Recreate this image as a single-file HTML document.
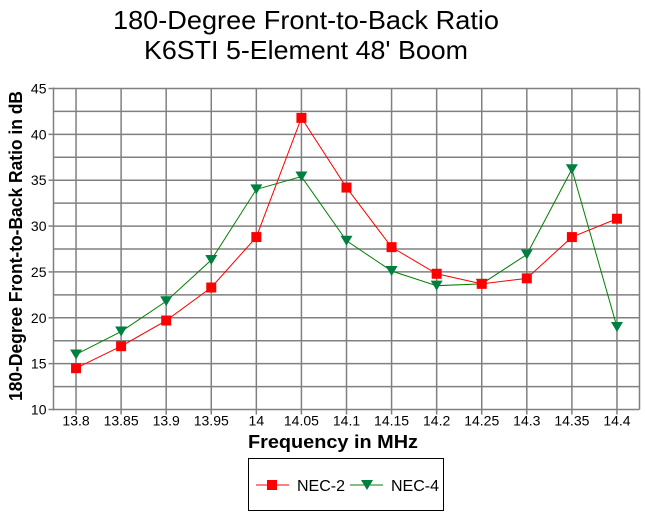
<!DOCTYPE html>
<html><head><meta charset="utf-8"><style>
body{margin:0;background:#fff;}
text{font-family:"Liberation Sans",Arial,sans-serif;}
</style></head><body>
<svg id="chart" width="645" height="514" xmlns="http://www.w3.org/2000/svg">
<text x="306" y="29" font-size="26" text-anchor="middle" textLength="386" lengthAdjust="spacingAndGlyphs">180-Degree Front-to-Back Ratio</text>
<text x="306" y="59" font-size="26" text-anchor="middle" textLength="324" lengthAdjust="spacingAndGlyphs">K6STI 5-Element 48' Boom</text>
<g id="grid"></g>
<g id="axes"></g>
<g id="series"></g>
<text x="333" y="448" font-size="18" font-weight="bold" text-anchor="middle" textLength="170" lengthAdjust="spacingAndGlyphs">Frequency in MHz</text>
<text transform="translate(22,246) rotate(-90)" font-size="18" font-weight="bold" text-anchor="middle" textLength="310" lengthAdjust="spacingAndGlyphs">180-Degree Front-to-Back Ratio in dB</text>
<g>
<rect x="248.5" y="458.5" width="195" height="52" fill="none" stroke="#000" stroke-width="1"/>
<g>
<line x1="256" y1="485" x2="289" y2="485" stroke="#f00"/>
<rect x="267" y="480" width="10" height="10" fill="#f00"/>
<text x="297" y="491" font-size="16">NEC-2</text></g>
<g>
<line x1="350" y1="485" x2="383" y2="485" stroke="#008000"/>
<polygon points="361,480 373,480 367,490" fill="#008040"/>
<text x="391" y="491" font-size="16">NEC-4</text></g>
</g>
</svg>
<script>
const categories=["13.8","13.85","13.9","13.95","14","14.05","14.1","14.15","14.2","14.25","14.3","14.35","14.4"];
const nec2=[14.5,16.9,19.7,23.3,28.8,41.8,34.2,27.7,24.8,23.7,24.3,28.8,30.8];
const nec4=[16.0,18.5,21.8,26.3,34.0,35.4,28.4,25.1,23.5,23.7,26.9,36.2,19.0];
const yTicks=[10,15,20,25,30,35,40,45];
const NS="http://www.w3.org/2000/svg";
const L=53.5,R=639.5,T=88.5,B=409.5,ymin=10,ymax=45;
const step=(R-L)/categories.length;
function x(i){return L+step*(i+0.5);}
function y(v){return B-(v-ymin)/(ymax-ymin)*(B-T);}
function mk(tag,attrs,parent){const e=document.createElementNS(NS,tag);for(const k in attrs)e.setAttribute(k,attrs[k]);parent.appendChild(e);return e;}
const grid=document.getElementById('grid'),axes=document.getElementById('axes'),series=document.getElementById('series');
for(let v=ymin;v<=ymax;v+=2.5){const l=mk('line',{x1:L,x2:R,y1:y(v),y2:y(v),stroke:'#808080','stroke-width':1.5},grid);

}
categories.forEach((c,i)=>{const l=mk('line',{x1:x(i),x2:x(i),y1:T,y2:B+5,stroke:'#808080','stroke-width':1.5},grid);


const t=mk('text',{x:x(i),y:B+16,'font-size':14,'text-anchor':'middle'},axes);t.textContent=c;

});
mk('line',{x1:R,x2:R,y1:T,y2:B,stroke:'#808080','stroke-width':1.5},grid);
mk('line',{x1:L,x2:L,y1:T-1,y2:B+1,stroke:'#808080','stroke-width':1.5},axes);
yTicks.forEach(v=>{mk('line',{x1:L-5,x2:L,y1:y(v),y2:y(v),stroke:'#808080','stroke-width':1.5},axes);
const t=mk('text',{x:L-7,y:y(v)+5,'font-size':14,'text-anchor':'end'},axes);t.textContent=v;

});
function draw(vals,color,mcolor,kind,name){
const p=mk('polyline',{points:vals.map((v,i)=>x(i)+','+y(v)).join(' '),fill:'none',stroke:color,'stroke-width':1},series);


vals.forEach((v,i)=>{let m;
if(kind==='sq')m=mk('rect',{x:x(i)-5,y:y(v)-5,width:10,height:10,fill:mcolor},series);
else m=mk('polygon',{points:(x(i)-6)+','+(y(v)-5)+' '+(x(i)+6)+','+(y(v)-5)+' '+x(i)+','+(y(v)+5),fill:mcolor},series);

});}
draw(nec4,'#008000','#008040','tri','nec4');
draw(nec2,'#ff0000','#ff0000','sq','nec2');
</script>
</body></html>
